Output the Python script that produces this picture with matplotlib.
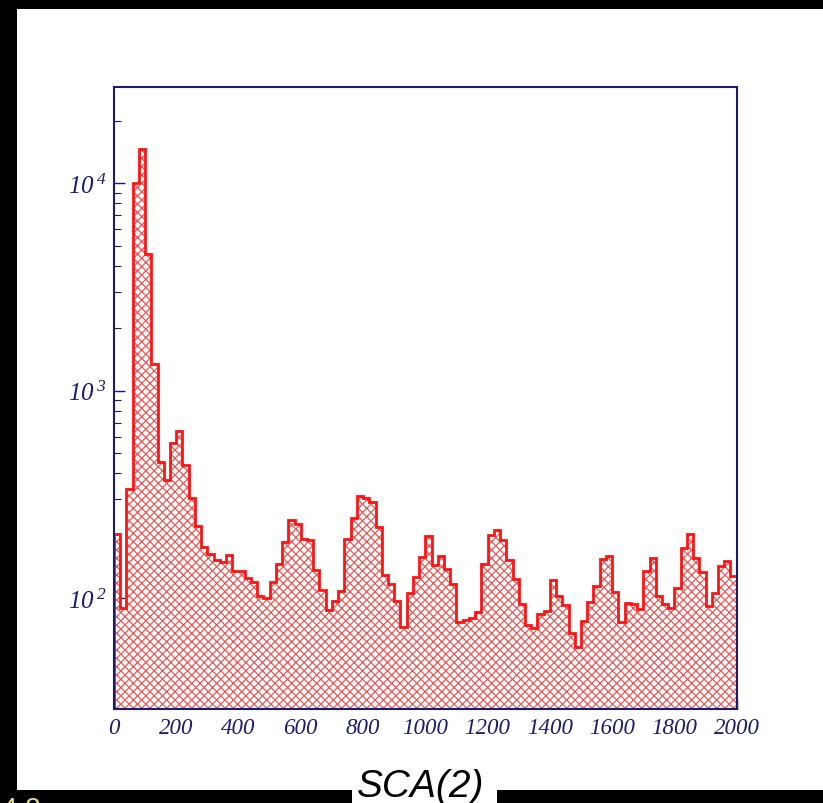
import numpy as np
import matplotlib
matplotlib.use("Agg")
import matplotlib.pyplot as plt
from matplotlib.patches import Rectangle
from matplotlib.ticker import FixedLocator, FixedFormatter, MultipleLocator, LogLocator, NullFormatter

# SCA(2) spectrum, 100 bins of width 20 over 0..2000
x_min, x_max, bin_width = 0, 2000, 20
counts = [
    205, 90, 336, 10070, 14550, 4580, 1343, 452, 372, 560,
    641, 440, 306, 224, 177, 163, 153, 149, 162, 135,
    135, 125, 120, 103, 100, 120, 147, 186, 239, 227,
    193, 191, 137, 110, 88, 97, 109, 193, 245, 312,
    304, 292, 220, 130, 117, 97, 73, 106, 127, 159,
    200, 145, 160, 139, 117, 77, 79, 80, 86, 147,
    202, 214, 191, 153, 124, 94, 74, 72, 84, 87,
    123, 103, 93, 68, 58, 78, 96, 115, 155, 160,
    107, 77, 95, 94, 89, 135, 156, 103, 94, 90,
    112, 175, 204, 156, 134, 92, 106, 143, 151, 128,
]
x_ticks = [0, 200, 400, 600, 800, 1000, 1200, 1400, 1600, 1800, 2000]
y_ticks = [1e2, 1e3, 1e4]
y_tick_labels = [r"$10^{\;2}$", r"$10^{\;3}$", r"$10^{\;4}$"]
y_range = (29.3, 29000)
title = "SCA(2)"

NAVY = "#1c1c6e"
RED = "#ff1414"
HATCH_RED = "#f05858"

plt.rcParams["mathtext.fontset"] = "custom"
plt.rcParams["mathtext.rm"] = "Liberation Serif:italic"
plt.rcParams["mathtext.it"] = "Liberation Serif:italic"
plt.rcParams["hatch.linewidth"] = 0.9

W, H = 823, 804
fig = plt.figure(figsize=(W / 100, H / 100), dpi=100, facecolor="black")

# white canvas inside the black border, plus the box holding the title
fig.patches.append(Rectangle((17 / W, 13 / H), 1 - 17 / W, (H - 10 - 13) / H,
                             transform=fig.transFigure, facecolor="white",
                             edgecolor="none", zorder=-2))
fig.patches.append(Rectangle((352 / W, 0), 145 / W, 20 / H,
                             transform=fig.transFigure, facecolor="white",
                             edgecolor="none", zorder=-2))

ax = fig.add_axes([114 / W, 94 / H, (736.7 - 114) / W, (710 - 88.3) / H])
ax.set_zorder(1)
ax.set_facecolor("white")

edges = np.arange(x_min, x_max + bin_width, bin_width)
vals = np.array(counts, dtype=float)

# hatched fill, then the outline on top
ax.stairs(vals, edges, baseline=1, fill=True, facecolor="white",
          edgecolor=HATCH_RED, hatch="xxxx", linewidth=0, zorder=2)
ax.stairs(vals, edges, baseline=None, color=RED, linewidth=2.0, zorder=3)
ax.vlines([edges[0], edges[-1]], 1, [vals[0], vals[-1]], color=RED,
          linewidth=2.0, zorder=3)

ax.set_yscale("log")
ax.set_xlim(x_min, x_max)
ax.set_ylim(*y_range)

for s in ax.spines.values():
    s.set_color(NAVY)
    s.set_linewidth(1.5)
    s.set_zorder(4)

ax.xaxis.set_major_locator(FixedLocator(x_ticks))
ax.xaxis.set_minor_locator(MultipleLocator(50))
ax.yaxis.set_major_locator(FixedLocator(y_ticks))
ax.yaxis.set_major_formatter(FixedFormatter(y_tick_labels))
ax.yaxis.set_minor_locator(LogLocator(base=10, subs=np.arange(2, 10)))
ax.yaxis.set_minor_formatter(NullFormatter())

ax.tick_params(axis="both", which="both", direction="in", color=NAVY,
               top=False, right=False, zorder=5)
ax.tick_params(axis="x", which="major", length=8, width=1.0, pad=6)
ax.tick_params(axis="x", which="minor", length=4, width=0.8)
ax.tick_params(axis="y", which="major", length=8, width=1.0, pad=5)
ax.tick_params(axis="y", which="minor", length=5, width=0.8)

for lab in ax.get_xticklabels():
    lab.set_fontfamily("Liberation Serif")
    lab.set_fontstyle("italic")
    lab.set_fontsize(16.5)
    lab.set_color(NAVY)
for lab in ax.get_yticklabels():
    lab.set_fontsize(18)
    lab.set_color(NAVY)

fig.text(421 / W, 7 / H, title, ha="center", va="baseline",
         fontsize=28, fontstyle="italic", family="Liberation Sans",
         color="black")

# leftover glyph tops at the lower left edge
fig.text(2 / W, -19 / H, "4 2", ha="left", va="bottom", fontsize=20,
         color="#e6dc96", family="Liberation Sans")

fig.savefig("out.png", dpi=100, facecolor="black")
